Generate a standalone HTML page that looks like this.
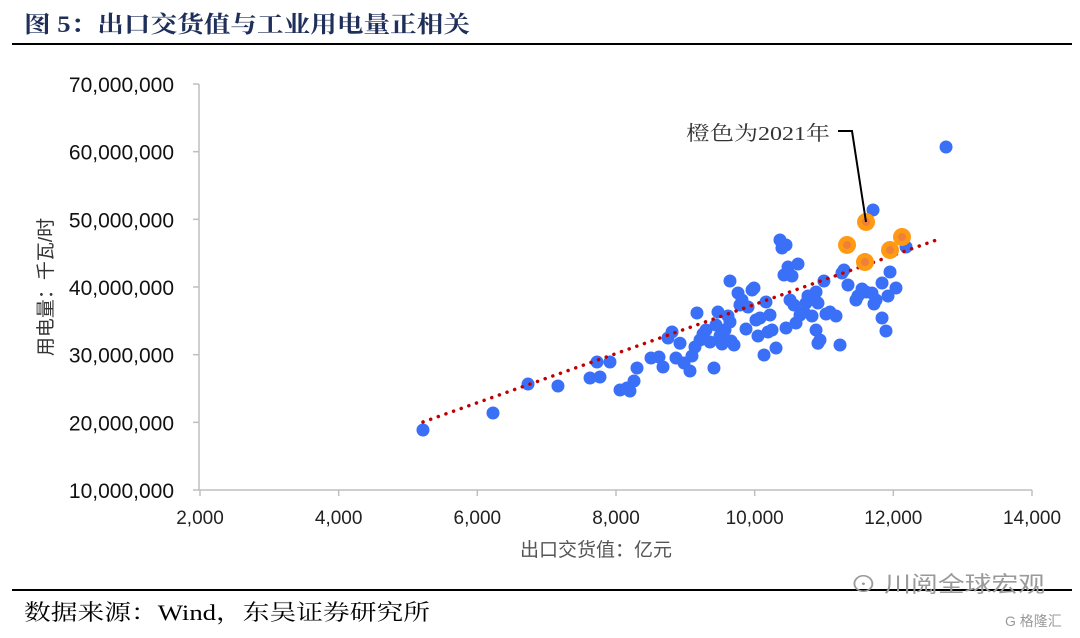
<!DOCTYPE html>
<html><head><meta charset="utf-8"><style>
body{margin:0;background:#fff;width:1080px;height:633px;overflow:hidden;font-family:"Liberation Serif","Noto Serif CJK SC",serif}
</style></head><body>
<svg id="c" width="1080" height="633" xmlns="http://www.w3.org/2000/svg">
<text x="24" y="32" font-size="23" font-weight="bold" fill="#1f2f5a" textLength="446" lengthAdjust="spacingAndGlyphs" font-family="Liberation Serif, Noto Serif CJK SC, serif">图 5：出口交货值与工业用电量正相关</text>
<line x1="12" y1="44" x2="1072" y2="44" stroke="#000" stroke-width="2"/>
<line x1="12" y1="590" x2="1072" y2="590" stroke="#000" stroke-width="2"/>
<text x="24" y="620" font-size="22" fill="#000" textLength="406" lengthAdjust="spacingAndGlyphs" font-family="Liberation Serif, Noto Serif CJK SC, serif">数据来源：Wind，东吴证券研究所</text>
<text x="850" y="592" font-size="22" fill="#9a9a9a" textLength="195" lengthAdjust="spacingAndGlyphs" font-family="Liberation Sans, Noto Sans CJK SC, sans-serif">⊙ 川阅全球宏观</text>
<text x="1005" y="626" font-size="14" fill="#9a9a9a" font-family="Liberation Sans, Noto Sans CJK SC, sans-serif">G 格隆汇</text>
<g id="axes"></g>
<g id="marks"></g>
<text x="686" y="140" font-size="20" fill="#333" textLength="144" lengthAdjust="spacingAndGlyphs" font-family="Liberation Serif, Noto Serif CJK SC, serif">橙色为2021年</text>
<polyline points="838,131 852,131 866,222" fill="none" stroke="#000" stroke-width="2"/>
<text transform="translate(52,287) rotate(-90)" text-anchor="middle" font-size="19" fill="#333" font-family="Liberation Sans, Noto Sans CJK SC, sans-serif">用电量：千瓦/时</text>
<text x="596" y="556" text-anchor="middle" font-size="19" fill="#555" font-family="Liberation Sans, Noto Sans CJK SC, sans-serif">出口交货值：亿元</text>
</svg>
<script>
const xTicks=[2000,4000,6000,8000,10000,12000,14000];
const yTicks=[10,20,30,40,50,60,70];
const blueX=[5216,6226,6731,7163,7625,7726,7913,7769,8159,8260,8058,8202,8303,8505,8620,8678,8750,8808,8865,8923,8981,9067,9096,9139,9168,9212,9255,9298,9356,9413,9442,9471,9500,9529,9572,9615,9644,9644,9659,9702,9760,9788,9817,9875,9904,9962,9990,10019,10048,10077,10135,10163,10192,10221,10250,10308,10365,10394,10452,10423,10452,10481,10510,10538,10567,10596,10625,10654,10711,10740,10769,10827,10885,10913,10942,10885,10913,10999,11029,11086,11173,11231,11259,11288,11346,11461,11490,11548,11606,11692,11721,11750,11837,11837,11894,11923,11952,12038,12183,12760,11707];
const blueY=[18.87,21.38,25.66,25.37,26.55,28.92,28.92,26.70,25.07,26.11,24.78,24.63,28.03,29.51,29.65,28.18,32.46,33.35,29.51,31.69,28.77,27.59,29.80,31.13,36.16,32.17,33.05,33.64,31.87,28.03,34.38,36.30,32.76,31.58,33.64,35.71,40.89,34.83,32.02,31.43,39.11,37.34,38.08,33.79,37.04,39.56,39.85,35.12,32.76,35.42,29.95,37.78,33.35,35.86,33.64,30.98,46.95,45.76,46.21,41.77,33.94,42.95,38.08,41.63,37.34,34.68,43.40,35.86,36.30,37.63,38.67,35.71,33.64,37.63,32.17,39.26,31.69,40.89,36.01,36.30,35.71,31.43,42.07,42.51,40.30,38.08,38.67,39.70,39.26,39.11,37.49,38.08,40.59,35.42,33.50,38.67,42.22,39.85,45.91,60.69,51.38];
const orangeX=[11332,11606,11591,11952,12125];
const orangeY=[46.21,49.61,43.69,45.47,47.39];
const trendX=[5216,12702];
const trendY=[20.05,47.24];
const X=v=>200+(v-2000)*832/12000;
const Y=v=>490-(v-10)*406/60;
const NS="http://www.w3.org/2000/svg";
const axes=document.getElementById('axes'),marks=document.getElementById('marks');
function mk(p,tag,a){const e=document.createElementNS(NS,tag);for(const k in a)e.setAttribute(k,a[k]);p.appendChild(e);return e;}
let e=mk(axes,'line',{x1:199,y1:84,x2:199,y2:490,stroke:'#bfbfbf','stroke-width':1.5});


e=mk(axes,'line',{x1:199,y1:490,x2:1032,y2:490,stroke:'#bfbfbf','stroke-width':1.5});


xTicks.forEach(t=>{
 const tk=mk(axes,'line',{x1:X(t),y1:490,x2:X(t),y2:496,stroke:'#bfbfbf','stroke-width':1.5});
 
 
 const tx=mk(axes,'text',{x:X(t),y:524,'text-anchor':'middle','font-size':19,fill:'#222','font-family':'Liberation Sans, sans-serif'});
 tx.textContent=t.toLocaleString('en-US');
 
 
});
yTicks.forEach(t=>{
 const tk=mk(axes,'line',{x1:193,y1:Y(t),x2:199,y2:Y(t),stroke:'#bfbfbf','stroke-width':1.5});
 
 
 const tx=mk(axes,'text',{x:174,y:Y(t)+8,'text-anchor':'end','font-size':21,fill:'#111','font-family':'Liberation Sans, sans-serif'});
 tx.textContent=(t*1000000).toLocaleString('en-US');
 
 
});
blueX.forEach((v,i)=>{
 const c=mk(marks,'circle',{cx:X(v),cy:Y(blueY[i]),r:6.5,fill:'#3a6ff7'});
 
 
});
const tl=mk(marks,'line',{x1:X(trendX[0]),y1:Y(trendY[0]),x2:X(trendX[1]),y2:Y(trendY[1]),stroke:'#c00000','stroke-width':3.5,'stroke-dasharray':'0.1 8','stroke-linecap':'round'});


orangeX.forEach((v,i)=>{
 const c=mk(marks,'circle',{cx:X(v),cy:Y(orangeY[i]),r:9,fill:'#ff9a12'});
 
 
 const d=mk(marks,'circle',{cx:X(v),cy:Y(orangeY[i]),r:4,fill:'#ef7f3a'});
 
 
});
</script>
</body></html>
